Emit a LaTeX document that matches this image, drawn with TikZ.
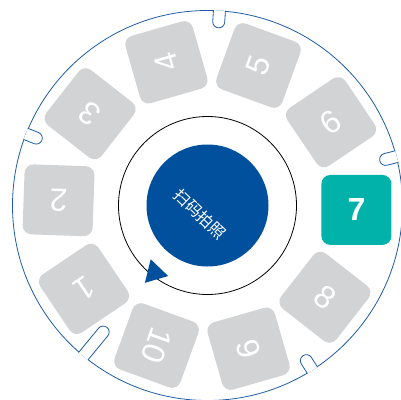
\documentclass[tikz,border=0pt]{standalone}
\usepackage{fontspec}
\setmainfont{Liberation Sans}
\newfontfamily\cjk{Noto Sans CJK SC}
\usetikzlibrary{positioning}

\definecolor{dialblue}{RGB}{0,80,158}
\definecolor{rimblue}{RGB}{30,92,168}
\definecolor{trayGray}{RGB}{209,211,212}
\definecolor{activeTeal}{RGB}{0,178,169}

\begin{document}
\begin{tikzpicture}[
  x=1pt, y=1pt,
  tray/.style={rectangle, rounded corners=9pt, minimum width=70pt, minimum height=70pt,
    inner sep=0pt, fill=trayGray, text=white, font=\fontsize{32}{32}\selectfont},
  active/.style={tray, fill=activeTeal, font=\bfseries\fontsize{32}{32}\selectfont},
  notch/.style={draw=rimblue, fill=white, line width=0.8pt},
  rim/.style={draw=rimblue, line width=0.8pt}
]
\useasboundingbox (-207.5,-193.5) rectangle (193.5,205.5);
\clip (-207.5,-193.5) rectangle (193.5,205.5);

% Rim and slots
\draw[rim] (0,0) circle[radius=195];
\filldraw[notch, rotate=14.5]  (195.4,6) -- (184,6) arc[start angle=90, end angle=270, radius=6] -- (195.4,-6);
\filldraw[notch, rotate=86.5]  (195.4,6) -- (184,6) arc[start angle=90, end angle=270, radius=6] -- (195.4,-6);
\filldraw[notch, rotate=158.5] (195.4,6) -- (184,6) arc[start angle=90, end angle=270, radius=6] -- (195.4,-6);
\filldraw[notch, rotate=230.5] (195.4,6) -- (164,6) arc[start angle=90, end angle=270, radius=6] -- (195.4,-6);
\filldraw[notch, rotate=302.5] (195.4,6) -- (184,6) arc[start angle=90, end angle=270, radius=6] -- (195.4,-6);

% Positions
\node[tray, rotate=214] (sq1) at (214:149) {1};
\node[tray, rotate=178] (sq2) at (178:149) {2};
\node[tray, rotate=142] (sq3) at (142:149) {3};
\node[tray, rotate=106] (sq4) at (106:149) {4};
\node[tray, rotate=70]  (sq5) at (70:149) {5};
\node[tray, rotate=34]  (sq6) at (34:149) {6};
\node[active]           (sq7) at (-1.7:149) {7};
\node[tray, rotate=322] (sq8) at (322:149) {8};
\node[tray, rotate=286] (sq9) at (286:149) {9};
\node[tray, rotate=250] (sq10) at (250:149) {10};

% Hub
\draw[black, line width=0.8pt] (0,0) circle[radius=89];
\node[circle, fill=dialblue, minimum size=122pt, inner sep=0pt] (hub) at (0,0) {};
\node[rotate=-44, text=white, font=\cjk\fontsize{16}{16}\selectfont] (hublabel) at (-7.5,-8.5) {扫码拍照};

% Direction arrow
\coordinate (turn) at (-52.9,-67.2);
\fill[dialblue] ([shift={(-13.8:14)}]turn) -- ([shift={(106.2:14)}]turn) -- ([shift={(226.2:14)}]turn) -- cycle;

\end{tikzpicture}
\end{document}
